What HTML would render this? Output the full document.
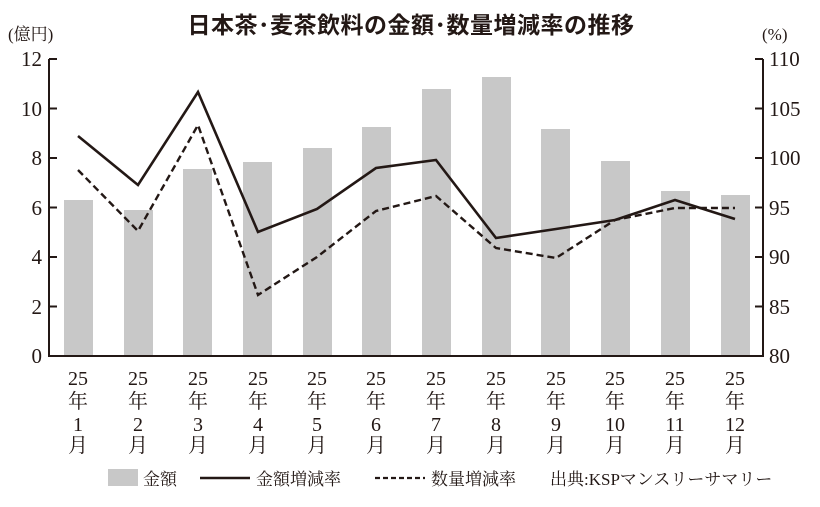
<!DOCTYPE html>
<html><head><meta charset="utf-8"><style>
body{margin:0;background:#fff;}
svg{display:block;font-family:"Liberation Serif","Noto Serif CJK SC",serif;}
</style></head><body>
<svg width="820" height="507" viewBox="0 0 820 507" xmlns="http://www.w3.org/2000/svg">
<text x="411" y="33" text-anchor="middle" font-family="Liberation Sans,'Noto Sans CJK JP',sans-serif" font-weight="bold" font-size="23" letter-spacing="0.5" fill="#231815">日本茶･麦茶飲料の金額･数量増減率の推移</text>
<text x="8" y="40" font-size="17" fill="#231815">(億円)</text>
<text x="762" y="40" font-size="17" fill="#231815">(%)</text>
<g fill="#c8c8c8">
<rect x="64" y="200" width="29" height="156"/>
<rect x="124" y="210" width="29" height="146"/>
<rect x="183" y="169" width="29" height="187"/>
<rect x="243" y="162" width="29" height="194"/>
<rect x="303" y="148" width="29" height="208"/>
<rect x="362" y="127" width="29" height="229"/>
<rect x="422" y="89" width="29" height="267"/>
<rect x="482" y="77" width="29" height="279"/>
<rect x="541" y="129" width="29" height="227"/>
<rect x="601" y="161" width="29" height="195"/>
<rect x="661" y="191" width="29" height="165"/>
<rect x="721" y="195" width="29" height="161"/>
</g>
<g stroke="#231815" stroke-width="2" fill="none">
<path d="M49 59V356H763V59"/>
<path d="M49 59h8M49 108.5h8M49 158h8M49 207.5h8M49 257h8M49 306.5h8"/>
<path d="M763 59h-8M763 108.5h-8M763 158h-8M763 207.5h-8M763 257h-8M763 306.5h-8"/>
</g>
<polyline fill="none" stroke="#231815" stroke-width="2.6" points="78,136 138,185 198,92 258,232 317,209 376,168 436,160 496,238 556,229 615,220 675,200 735,219"/>
<polyline fill="none" stroke="#231815" stroke-width="2.4" stroke-dasharray="7,4" points="78,170 138,231 198,125 258,295 317,257 376,211 436,196 496,248 556,258 615,220 675,208 735,208"/>
<g font-size="21" fill="#231815" text-anchor="end">
<text x="42" y="66">12</text><text x="42" y="116">10</text><text x="42" y="165">8</text><text x="42" y="215">6</text><text x="42" y="264">4</text><text x="42" y="314">2</text><text x="42" y="363">0</text>
</g>
<g font-size="21" fill="#231815" text-anchor="start">
<text x="769" y="66">110</text><text x="769" y="116">105</text><text x="769" y="165">100</text><text x="769" y="215">95</text><text x="769" y="264">90</text><text x="769" y="314">85</text><text x="769" y="363">80</text>
</g>
<g font-size="20" fill="#231815" text-anchor="middle">
<g transform="translate(78,0)"><text y="385">25</text><text y="408">年</text><text y="431">1</text><text y="452">月</text></g>
<g transform="translate(138,0)"><text y="385">25</text><text y="408">年</text><text y="431">2</text><text y="452">月</text></g>
<g transform="translate(198,0)"><text y="385">25</text><text y="408">年</text><text y="431">3</text><text y="452">月</text></g>
<g transform="translate(258,0)"><text y="385">25</text><text y="408">年</text><text y="431">4</text><text y="452">月</text></g>
<g transform="translate(317,0)"><text y="385">25</text><text y="408">年</text><text y="431">5</text><text y="452">月</text></g>
<g transform="translate(376,0)"><text y="385">25</text><text y="408">年</text><text y="431">6</text><text y="452">月</text></g>
<g transform="translate(436,0)"><text y="385">25</text><text y="408">年</text><text y="431">7</text><text y="452">月</text></g>
<g transform="translate(496,0)"><text y="385">25</text><text y="408">年</text><text y="431">8</text><text y="452">月</text></g>
<g transform="translate(556,0)"><text y="385">25</text><text y="408">年</text><text y="431">9</text><text y="452">月</text></g>
<g transform="translate(615,0)"><text y="385">25</text><text y="408">年</text><text y="431">10</text><text y="452">月</text></g>
<g transform="translate(675,0)"><text y="385">25</text><text y="408">年</text><text y="431">11</text><text y="452">月</text></g>
<g transform="translate(735,0)"><text y="385">25</text><text y="408">年</text><text y="431">12</text><text y="452">月</text></g>
</g>
<rect x="108" y="469" width="30" height="17" fill="#c8c8c8"/>
<line x1="200" y1="478" x2="250" y2="478" stroke="#231815" stroke-width="2.4"/>
<line x1="375" y1="478" x2="425" y2="478" stroke="#231815" stroke-width="2.2" stroke-dasharray="5,3"/>
<g font-size="17" fill="#231815">
<text x="143" y="485">金額</text>
<text x="256" y="485">金額増減率</text>
<text x="431" y="485">数量増減率</text>
<text x="550" y="485">出典:KSPマンスリーサマリー</text>
</g>
</svg>
</body></html>
